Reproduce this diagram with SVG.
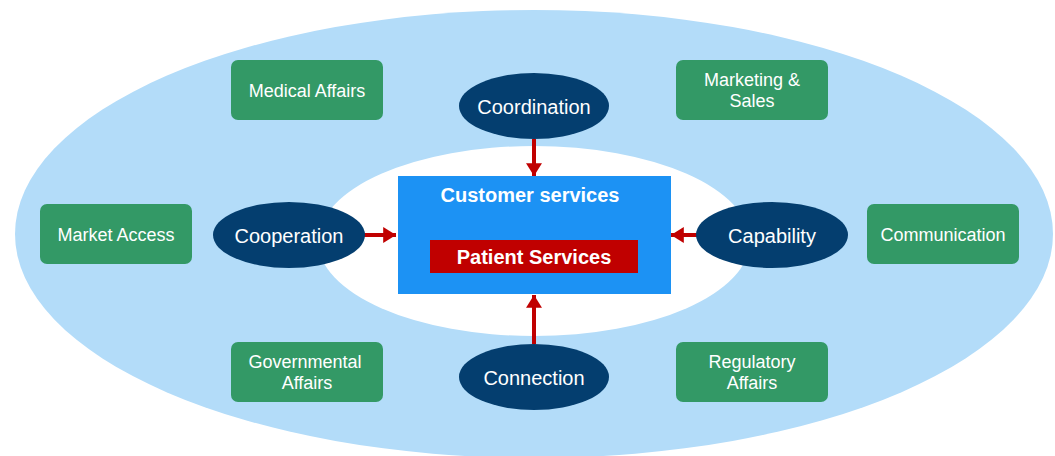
<svg xmlns="http://www.w3.org/2000/svg" width="1055" height="456" viewBox="0 0 1055 456">
<style>
text{font-family:"Liberation Sans",Arial,sans-serif;fill:#fff;text-anchor:middle;dominant-baseline:central}
.g{fill:#339966}
.gt{font-size:18px}
.e{fill:#043E6F}
.et{font-size:20px}
.c{stroke:#C00000;stroke-width:4;fill:none;marker-end:url(#ah)}
</style>
<defs>
<marker id="ah" markerWidth="4" markerHeight="4" refX="3.2" refY="2" orient="auto" markerUnits="strokeWidth">
<path d="M0,0 L3.2,2 L0,4 Z" fill="#C00000"/>
</marker>
</defs>
<rect width="1055" height="456" fill="#fff"/>
<ellipse cx="534" cy="234" rx="519" ry="224" fill="#B3DCF9"/>
<ellipse cx="534" cy="241" rx="216" ry="95" fill="#fff"/>
<g id="customer-services">
<rect x="398" y="176" width="273" height="118" fill="#1C92F4"/>
<text x="530" y="195" font-size="20" font-weight="bold">Customer services</text>
</g>
<g id="patient-services">
<rect x="430" y="240" width="208" height="33" fill="#C00000"/>
<text x="534" y="257" font-size="20" font-weight="bold">Patient Services</text>
</g>
<g id="connectors">
<line class="c" x1="534" y1="139" x2="534" y2="176"/>
<line class="c" x1="364" y1="235" x2="396" y2="235"/>
<line class="c" x1="697" y1="235" x2="671" y2="235"/>
<line class="c" x1="534" y1="344" x2="534" y2="295"/>
</g>
<g id="coordination"><ellipse class="e" cx="534" cy="106" rx="75" ry="33"/><text class="et" x="534" y="107">Coordination</text></g>
<g id="cooperation"><ellipse class="e" cx="289" cy="235" rx="76" ry="33"/><text class="et" x="289" y="236">Cooperation</text></g>
<g id="capability"><ellipse class="e" cx="772" cy="235" rx="76" ry="33"/><text class="et" x="772" y="236">Capability</text></g>
<g id="connection"><ellipse class="e" cx="534" cy="377" rx="75" ry="33"/><text class="et" x="534" y="378">Connection</text></g>
<g id="medical-affairs"><rect class="g" x="231" y="60" width="152" height="60" rx="7"/><text class="gt" x="307" y="91">Medical Affairs</text></g>
<g id="marketing-sales"><rect class="g" x="676" y="60" width="152" height="60" rx="7"/><text class="gt" x="752" y="80">Marketing &amp;</text><text class="gt" x="752" y="101">Sales</text></g>
<g id="market-access"><rect class="g" x="40" y="204" width="152" height="60" rx="7"/><text class="gt" x="116" y="235">Market Access</text></g>
<g id="communication"><rect class="g" x="867" y="204" width="152" height="60" rx="7"/><text class="gt" x="943" y="235">Communication</text></g>
<g id="governmental-affairs"><rect class="g" x="231" y="342" width="152" height="60" rx="7"/><text class="gt" x="305" y="362">Governmental</text><text class="gt" x="307" y="383">Affairs</text></g>
<g id="regulatory-affairs"><rect class="g" x="676" y="342" width="152" height="60" rx="7"/><text class="gt" x="752" y="362">Regulatory</text><text class="gt" x="752" y="383">Affairs</text></g>
</svg>
